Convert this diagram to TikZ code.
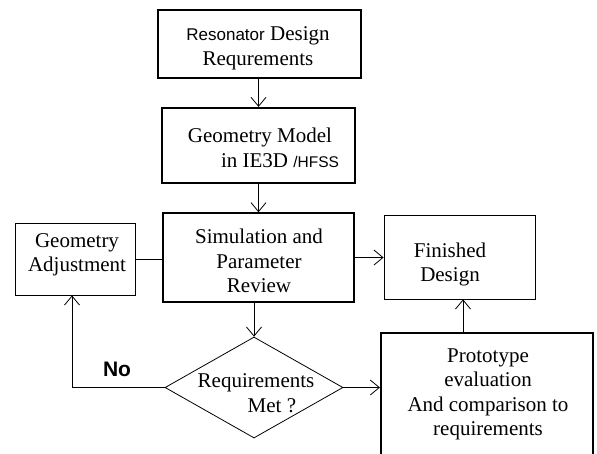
\documentclass[tikz,border=0pt]{standalone}
\usepackage{fontspec}
\setmainfont{Liberation Serif}
\newfontfamily\arialfont{Liberation Sans}
\usetikzlibrary{arrows.meta,shapes.geometric}
\begin{document}
\begin{tikzpicture}[x=1pt,y=-1pt,
  box/.style={draw, inner sep=0pt, line width=0.8pt},
  thickbox/.style={box, line width=2.2pt},
  midbox/.style={box, line width=1.6pt},
  txt/.style={align=center, inner sep=0pt, font=\fontsize{21}{24.5}\selectfont},
  arr/.style={-{Straight Barb[length=9pt,width=15pt]}, line width=0.8pt},
  ln/.style={line width=0.8pt}]
\useasboundingbox (0,0) rectangle (597,453);
\fill[white] (0,0) rectangle (597,453);
\clip (0,0) rectangle (597,453);
% boxes
\node[thickbox, minimum width=203pt, minimum height=68pt] (b1) at (259.5,44) {};
\node[thickbox, minimum width=193pt, minimum height=75pt] (b2) at (258.5,145.5) {};
\node[midbox, minimum width=191pt, minimum height=89pt] (b3) at (258.5,257.5) {};
\node[box, minimum width=120pt, minimum height=72pt] (ga) at (75,259) {};
\node[box, minimum width=151pt, minimum height=84pt] (fd) at (459.5,257) {};
\node[thickbox, minimum width=212pt, minimum height=150pt] (pr) at (487,408) {};
\node[box, diamond, minimum width=178pt, minimum height=101pt] (dia) at (254,387.5) {};
% texts
\node[txt] (t1) at (258,48.5) {{\arialfont\fontsize{17}{20}\selectfont Resonator} Design\\Requrements};
\node[txt] (t2) at (260,148) {Geometry Model\\\hspace*{40pt}in IE3D {\arialfont\fontsize{15.5}{18}\selectfont /HFSS}};
\node[txt] (t3) at (259,261) {Simulation and\\Parameter\\Review};
\node[txt] (tga) at (77,255) {Geometry\\Adjustment};
\node[txt] (tfd) at (450,264.5) {Finished\\Design};
\node[txt] (tpr) at (488,394.5) {Prototype\\evaluation\\And comparison to\\requirements};
\node[txt, align=left] (tdia) at (256,393) {Requirements\\\hspace*{50pt}Met ?};
\node[inner sep=0pt, font=\arialfont\bfseries\fontsize{21}{24}\selectfont] (no) at (117,369) {No};
% coordinates
\coordinate (nc) at (72,387.5);
\coordinate (pu) at (463,0);
% connectors
\draw[arr] (b2.north |- b1.south) -- (b2.north);
\draw[arr] (b3.north |- b2.south) -- (b3.north);
\draw[ln] (ga.east) -- (ga.east -| b3.west);
\draw[arr] (b3.east) -- (b3.east -| fd.west);
\draw[arr] (dia.north |- b3.south) -- (dia.north);
\draw[arr] (dia.east) -- (dia.east -| pr.west);
\draw[arr] (dia.west) -- (nc) -- (nc |- ga.south);
\draw[arr] (pu |- pr.north) -- (pu |- fd.south);
\end{tikzpicture}
\end{document}
